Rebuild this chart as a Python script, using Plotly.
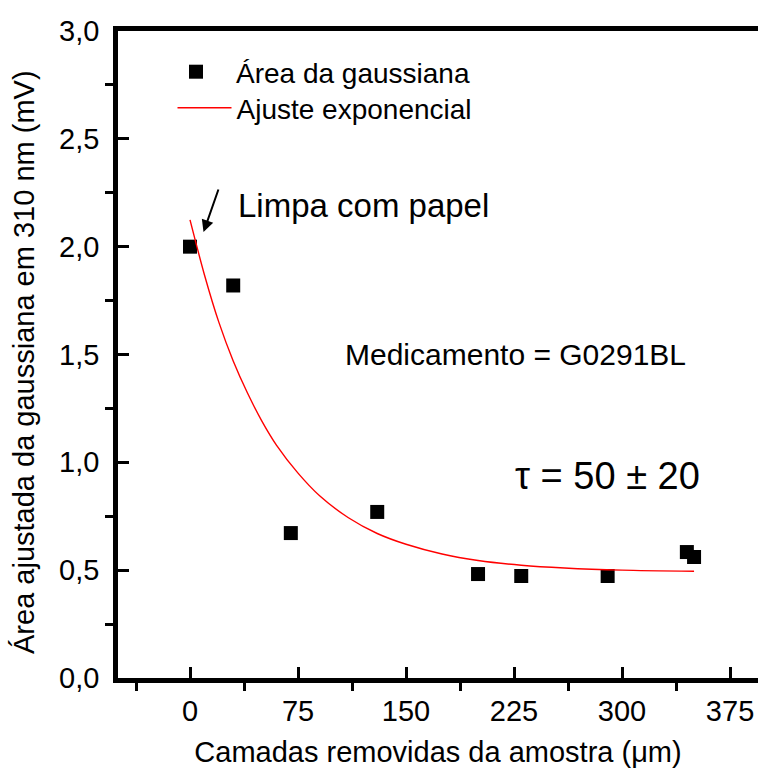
import plotly.graph_objects as go

# Data points
x_pts = [0, 30, 70, 130, 200, 230, 290, 345, 350]
y_pts = [2.00, 1.82, 0.672, 0.77, 0.482, 0.473, 0.473, 0.584, 0.561]

# Exponential fit curve
x_fit = [0, 10, 20, 30, 40, 50, 60, 75, 90, 110, 130, 150, 175, 200, 230, 260, 300, 350]
y_fit = [2.124, 1.87, 1.65, 1.47, 1.32, 1.19, 1.08, 0.95, 0.845, 0.743, 0.67, 0.62, 0.575, 0.545, 0.523, 0.51, 0.50, 0.495]

x_ticks = [0, 75, 150, 225, 300, 375]
x_minor = [-37.5, 37.5, 112.5, 187.5, 262.5, 337.5]
y_ticks = [0.0, 0.5, 1.0, 1.5, 2.0, 2.5, 3.0]
y_tick_text = ["0,0", "0,5", "1,0", "1,5", "2,0", "2,5", "3,0"]
y_minor = [0.25, 0.75, 1.25, 1.75, 2.25, 2.75]

FONT = "Arial, Liberation Sans, sans-serif"

fig = go.Figure()
fig.add_trace(go.Scatter(
    x=x_pts, y=y_pts, mode="markers", name="Área da gaussiana", legend="legend",
    marker=dict(symbol="square", size=14, color="black", line=dict(width=0)),
))
fig.add_trace(go.Scatter(
    x=x_fit, y=y_fit, mode="lines", name="Ajuste exponencial", legend="legend2",
    line=dict(color="red", width=1.4, shape="spline", smoothing=0.8),
))

fig.update_layout(
    width=758, height=776,
    margin=dict(l=118, r=0, t=31, b=98),
    paper_bgcolor="white", plot_bgcolor="white",
    font=dict(family=FONT, size=28, color="black"),
    showlegend=True,
    legend=dict(x=(156 - 118) / 640, y=(678 - 72) / 647, xanchor="left", yanchor="middle",
                bgcolor="rgba(0,0,0,0)", font=dict(size=28), itemwidth=70),
    legend2=dict(x=(172.5 - 118) / 640, y=(678 - 108) / 647, xanchor="left", yanchor="middle",
                 bgcolor="rgba(0,0,0,0)", font=dict(size=28), itemwidth=54),
    xaxis=dict(
        range=[-50, 394.4], tickmode="array", tickvals=x_ticks,
        ticks="inside", ticklen=11, tickwidth=3, tickcolor="black",
        showline=True, linewidth=4.5, linecolor="black", mirror=True,
        showgrid=False, zeroline=False,
        minor=dict(ticks="outside", ticklen=8, tickwidth=3, tickcolor="black",
                   tickmode="array", tickvals=x_minor),
        tickfont=dict(size=29), ticklabelstandoff=3,
        title=dict(text="Camadas removidas da amostra (μm)", font=dict(size=29), standoff=18),
    ),
    yaxis=dict(
        range=[0, 3.0], tickmode="array", tickvals=y_ticks, ticktext=y_tick_text,
        ticks="inside", ticklen=11, tickwidth=3, tickcolor="black",
        showline=True, linewidth=4.5, linecolor="black", mirror=False,
        showgrid=False, zeroline=False,
        minor=dict(ticks="outside", ticklen=8, tickwidth=3, tickcolor="black",
                   tickmode="array", tickvals=y_minor),
        tickfont=dict(size=29), ticklabelstandoff=8,
    ),
)

# y-axis title as rotated text
fig.add_annotation(x=(24 - 118) / 640, y=(678 - 362) / 647, xref="paper", yref="paper",
                   text="Área ajustada da gaussiana em 310 nm (mV)", textangle=-90,
                   showarrow=False, xanchor="center", yanchor="middle", font=dict(size=29))

fig.add_annotation(x=9.4, y=2.068, ax=20.1, ay=2.272, axref="x", ayref="y",
                   xref="x", yref="y", text="", showarrow=True,
                   arrowhead=2, arrowsize=1.2, arrowwidth=2, arrowcolor="black")
fig.add_annotation(x=32, y=2.19, xref="x", yref="y", text="Limpa com papel",
                   showarrow=False, xanchor="left", yanchor="middle", font=dict(size=33))
fig.add_annotation(x=106, y=1.5, xref="x", yref="y", text="Medicamento = G0291BL",
                   showarrow=False, xanchor="left", yanchor="middle", font=dict(size=30))
fig.add_annotation(x=224, y=0.935, xref="x", yref="y", text="τ = 50 ± 20",
                   showarrow=False, xanchor="left", yanchor="middle", font=dict(size=38))

fig.write_html("out.html")
